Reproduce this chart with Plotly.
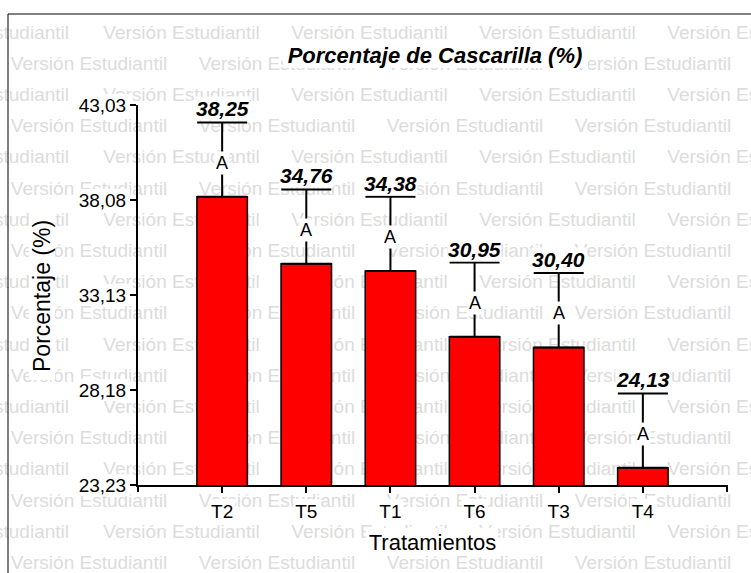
import plotly.graph_objects as go

# ---------------- data ----------------
categories = ["T2", "T5", "T1", "T6", "T3", "T4"]
values = [38.25, 34.76, 34.38, 30.95, 30.40, 24.13]
errors = [3.87, 3.87, 3.87, 3.87, 3.87, 3.87]
letters = ["A", "A", "A", "A", "A", "A"]
yticks = [23.23, 28.18, 33.13, 38.08, 43.03]
title_text = "Porcentaje de Cascarilla (%)"
x_title = "Tratamientos"
y_title = "Porcentaje (%)"
watermark = "Versión Estudiantil"

# ---------------- layout geometry (pixels) ----------------
W, H = 751, 573
L, R, T, B = 138, 727, 105, 485
YMIN, YMAX = yticks[0], yticks[-1]
XMIN, XMAX = -1, 6
FONT = "Liberation Sans, Arial, sans-serif"
WM_FONT = "Liberation Sans, Arial, sans-serif"
WM_W = 157


def px(x):
    return (x - L) / (R - L)


def py(y):
    return (B - y) / (B - T)


def yval_to_px(v):
    return B - (v - YMIN) * (B - T) / (YMAX - YMIN)


def xidx_to_px(i):
    return L + (i - XMIN) * (R - L) / (XMAX - XMIN)


fig = go.Figure()
fig.add_trace(go.Bar(
    x=categories, y=values, width=0.6,
    marker=dict(color="#ff0000", line=dict(color="black", width=1.5)),
    error_y=dict(type="data", array=errors, arrayminus=[0] * len(errors),
                 symmetric=False, color="black", thickness=2, width=25),
    showlegend=False, hoverinfo="x+y",
))

shapes = []
# watermark rows (drawn below the traces)
for n in range(18):
    cy = 30 + 31.2 * n
    start = -6.5 if n % 2 == 0 else 89
    cx = start
    while cx - WM_W / 2 < W:
        left = cx - WM_W / 2
        right = cx + WM_W / 2
        if left < 0:
            # word cut by the left edge: anchor text on its right end
            x0, x1, pos = 1, right, "middle right"
        else:
            x0, x1, pos = left, right, "middle center"
        shapes.append(dict(
            type="rect", xref="paper", yref="paper",
            x0=px(x0), x1=px(x1), y0=py(cy + 12), y1=py(cy - 12),
            line=dict(width=0), fillcolor="rgba(0,0,0,0)", layer="below",
            label=dict(text=watermark, textposition=pos, padding=0,
                       font=dict(family=WM_FONT, size=19, color="#dcdcdc")),
        ))
        cx += 188


def white_box(x0, x1, y0, y1):
    shapes.append(dict(type="rect", xref="paper", yref="paper",
                       x0=px(x0), x1=px(x1), y0=py(y1), y1=py(y0),
                       line=dict(width=0), fillcolor="white", layer="below"))


# white boxes behind texts
white_box(283, 588, 42, 68)          # title
white_box(366, 498, 528, 555)        # x title
white_box(29, 55, 213, 380)          # y title
for v in yticks:
    p = yval_to_px(v)
    white_box(76, 130, p - 11, p + 11)
for i in range(len(categories)):
    p = xidx_to_px(i)
    white_box(p - 13, p + 13, 499, 521)

# frame
shapes.append(dict(type="rect", xref="paper", yref="paper",
                   x0=px(8), x1=px(W + 20), y0=py(H + 20), y1=py(14),
                   line=dict(color="black", width=1), fillcolor="rgba(0,0,0,0)",
                   layer="above"))
# axis end ticks
shapes.append(dict(type="line", xref="x domain", yref="y domain",
                   x0=1, x1=1, ysizemode="pixel", yanchor=0, y0=0, y1=-7,
                   line=dict(color="black", width=2), layer="above"))
shapes.append(dict(type="line", xref="x domain", yref="y domain",
                   x0=0, x1=0, ysizemode="pixel", yanchor=0, y0=0, y1=-7,
                   line=dict(color="black", width=2), layer="above"))

annotations = []
for c, v, e, lt in zip(categories, values, errors, letters):
    annotations.append(dict(
        x=c, y=v + e, xref="x", yref="y", yanchor="bottom", yshift=1,
        text=f"{v:.2f}".replace(".", ","), showarrow=False,
        bgcolor="white", borderpad=0,
        font=dict(family=FONT, size=21, color="black", weight="bold", style="italic"),
    ))
    annotations.append(dict(
        x=c, y=v + e / 2, xref="x", yref="y", yanchor="middle", yshift=-3,
        text=lt, showarrow=False, bgcolor="white", borderpad=1,
        font=dict(family=FONT, size=18, color="black"),
    ))
# y-axis title
annotations.append(dict(
    x=px(42), y=py(296), xref="paper", yref="paper", text=y_title,
    textangle=-90, showarrow=False, xanchor="center", yanchor="middle",
    font=dict(family=FONT, size=23, color="black"),
))

fig.update_layout(
    width=W, height=H,
    margin=dict(l=L, r=W - R, t=T, b=H - B, pad=0),
    paper_bgcolor="white", plot_bgcolor="rgba(0,0,0,0)",
    separators=",.",
    title=dict(text=title_text, x=px(435), xanchor="center",
               y=1 - 55 / H, yanchor="middle", xref="paper", yref="container",
               font=dict(family=FONT, size=22, color="black", weight="bold", style="italic")),
    xaxis=dict(
        type="category", range=[XMIN, XMAX], showgrid=False, zeroline=False,
        showline=True, linecolor="black", linewidth=2,
        ticks="outside", ticklen=6, tickwidth=2, tickcolor="black",
        ticklabelstandoff=2,
        tickfont=dict(family=FONT, size=19, color="black"),
        title=dict(text=x_title, standoff=14,
                   font=dict(family=FONT, size=22, color="black")),
    ),
    yaxis=dict(
        range=[YMIN, YMAX], tickvals=yticks, tickformat=".2f",
        showgrid=False, zeroline=False,
        showline=True, linecolor="black", linewidth=2,
        ticks="outside", ticklen=6, tickwidth=2, tickcolor="black",
        tickfont=dict(family=FONT, size=19, color="black"),
    ),
    shapes=shapes,
    annotations=annotations,
    font=dict(family=FONT, color="black"),
)

fig.write_html("out.html", config={"displayModeBar": False},
               post_script="document.body.style.margin='0';document.body.style.overflow='hidden';")
